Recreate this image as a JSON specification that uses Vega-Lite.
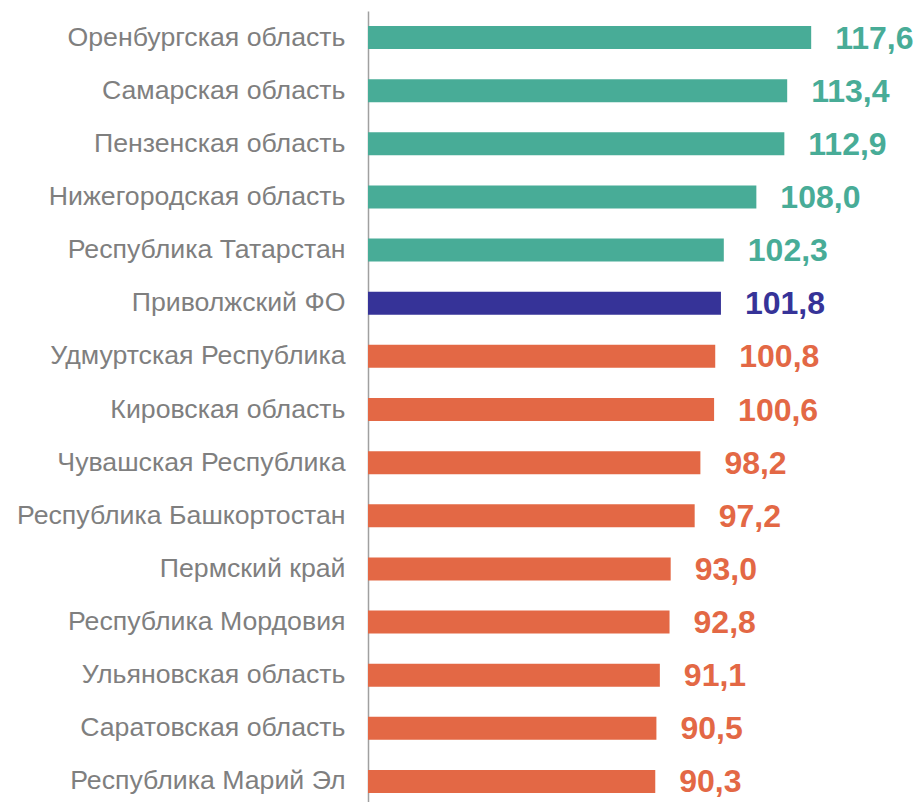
{
  "$schema": "https://vega.github.io/schema/vega-lite/v6.json",
  "width": 514,
  "height": 797,
  "padding": {"top": 11, "left": 0, "right": 0, "bottom": 0},
  "background": "white",
  "config": {
    "view": {"stroke": null},
    "locale": {"number": {"decimal": ",", "thousands": " ", "grouping": [3], "currency": ["", ""]}}
  },
  "data": {"values": [
    {"region": "Оренбургская область", "value": 117.6, "group": "up"},
    {"region": "Самарская область", "value": 113.4, "group": "up"},
    {"region": "Пензенская область", "value": 112.9, "group": "up"},
    {"region": "Нижегородская область", "value": 108.0, "group": "up"},
    {"region": "Республика Татарстан", "value": 102.3, "group": "up"},
    {"region": "Приволжский ФО", "value": 101.8, "group": "fo"},
    {"region": "Удмуртская Республика", "value": 100.8, "group": "down"},
    {"region": "Кировская область", "value": 100.6, "group": "down"},
    {"region": "Чувашская Республика", "value": 98.2, "group": "down"},
    {"region": "Республика Башкортостан", "value": 97.2, "group": "down"},
    {"region": "Пермский край", "value": 93.0, "group": "down"},
    {"region": "Республика Мордовия", "value": 92.8, "group": "down"},
    {"region": "Ульяновская область", "value": 91.1, "group": "down"},
    {"region": "Саратовская область", "value": 90.5, "group": "down"},
    {"region": "Республика Марий Эл", "value": 90.3, "group": "down"}
  ]},
  "encoding": {
    "y": {
      "field": "region", "type": "nominal", "sort": null,
      "scale": {"paddingInner": 0.567, "paddingOuter": 0.2835},
      "axis": {
        "title": null, "ticks": false, "labelFont": "Liberation Sans", "labelFontSize": 26.7,
        "labelColor": "#7f7f7f", "labelPadding": 23, "labelLimit": 400,
        "domainColor": "#a0a0a0", "domainWidth": 1.5,
        "minExtent": 368, "maxExtent": 368
      }
    },
    "x": {
      "field": "value", "type": "quantitative",
      "scale": {"domain": [40, 130], "nice": false, "zero": false},
      "axis": null
    },
    "color": {
      "field": "group", "type": "nominal", "legend": null,
      "scale": {"domain": ["up", "fo", "down"], "range": ["#48ac97", "#363398", "#e36845"]}
    }
  },
  "layer": [
    {"mark": {"type": "bar"}, "encoding": {"x2": {"datum": 40}}},
    {
      "mark": {"type": "text", "align": "left", "baseline": "middle", "dx": 24, "dy": 1,
               "font": "Liberation Sans", "fontWeight": "bold", "fontSize": 32},
      "encoding": {"text": {"field": "value", "type": "quantitative", "format": ".1f"}}
    }
  ]
}
